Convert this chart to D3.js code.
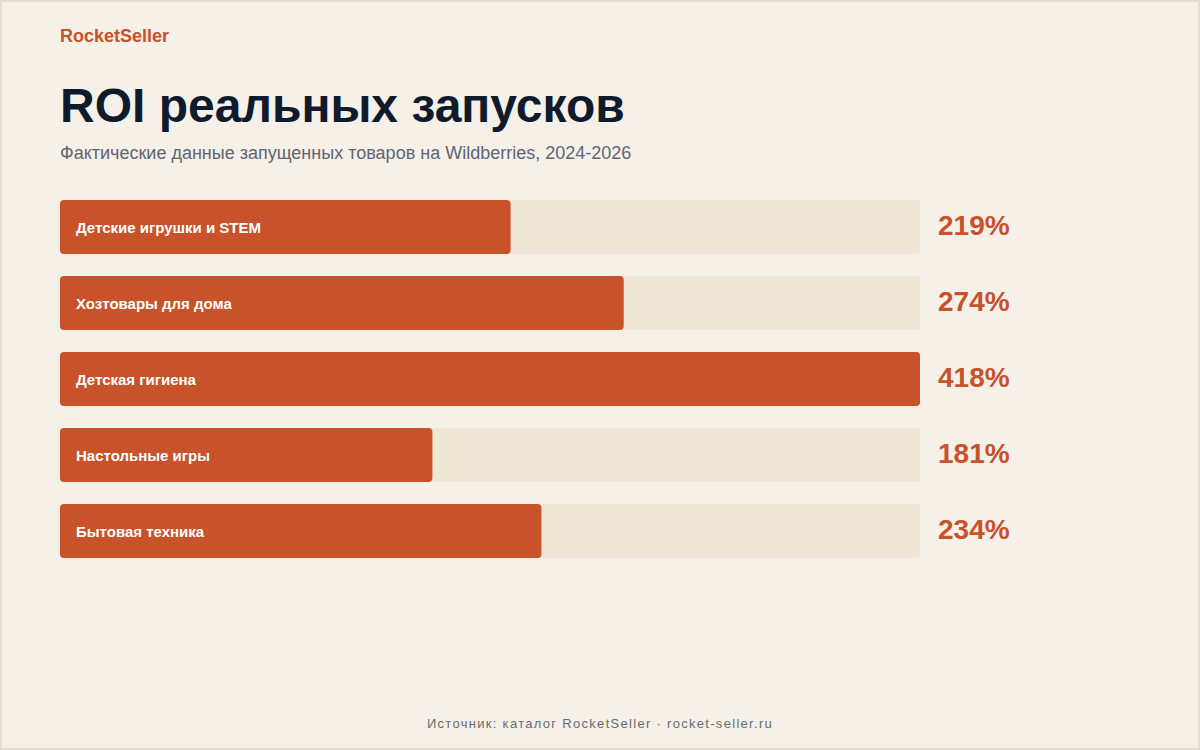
<!DOCTYPE html>
<html><head><meta charset="utf-8">
<script src="https://cdn.jsdelivr.net/npm/d3@7"></script>
<style>
html,body{margin:0;padding:0;background:#f5f0e8;}
svg{display:block;}
</style></head>
<body>
<svg id="c" width="1200" height="750"></svg>
<script>
const categories = ["Детские игрушки и STEM","Хозтовары для дома","Детская гигиена","Настольные игры","Бытовая техника"];
const roiValues = [219, 274, 418, 181, 234];
const valueLabels = ["219%","274%","418%","181%","234%"];

const svg = d3.select("#c");
const font = "'Liberation Sans', Arial, sans-serif";
svg.append("rect").attr("x",1).attr("y",1).attr("width",1198).attr("height",748)
  .attr("fill","#f5f0e8").attr("stroke","#e4dfd6").attr("stroke-width",2);

svg.append("text").attr("x",60).attr("y",42).text("RocketSeller")
  .attr("font-family",font).attr("font-weight","bold").attr("font-size",18).attr("fill","#c8522a");
svg.append("text").attr("x",60).attr("y",122).text("ROI реальных запусков")
  .attr("font-family",font).attr("font-weight","bold").attr("font-size",48).attr("fill","#0f1b2d");
svg.append("text").attr("x",60).attr("y",159).text("Фактические данные запущенных товаров на Wildberries, 2024-2026")
  .attr("font-family",font).attr("font-size",18).attr("fill","#5f6670");

const x = d3.scaleLinear().domain([0, d3.max(roiValues)]).range([60, 920]);
const y = d3.scaleBand().domain(categories).range([200, 200 + 76*categories.length - 22]).paddingInner(22/76).paddingOuter(0);

const g = svg.append("g");
categories.forEach((c,i)=>{
  const top = y(c), h = y.bandwidth();
  g.append("rect").attr("x",x(0)).attr("y",top).attr("width",x(d3.max(roiValues))-x(0)).attr("height",h)
    .attr("rx",4).attr("fill","#efe6d6");
  g.append("rect").attr("x",x(0)).attr("y",top).attr("width",x(roiValues[i])-x(0)).attr("height",h)
    .attr("rx",4).attr("fill","#c8522a");
  g.append("text").attr("x",76).attr("y",top+h/2).attr("dy","0.4em").text(c)
    .attr("font-family",font).attr("font-weight","bold").attr("font-size",15).attr("fill","#ffffff");
  g.append("text").attr("x",938).attr("y",top+h/2).attr("dy","0.3em").text(valueLabels[i])
    .attr("font-family",font).attr("font-weight","bold").attr("font-size",28).attr("fill","#c8522a");
});

svg.append("text").attr("x",600).attr("y",728).attr("text-anchor","middle")
  .text("Источник: каталог RocketSeller · rocket-seller.ru")
  .attr("font-family",font).attr("font-size",13).attr("letter-spacing","1.3px").attr("fill","#6b6b70");
</script>
</body></html>
